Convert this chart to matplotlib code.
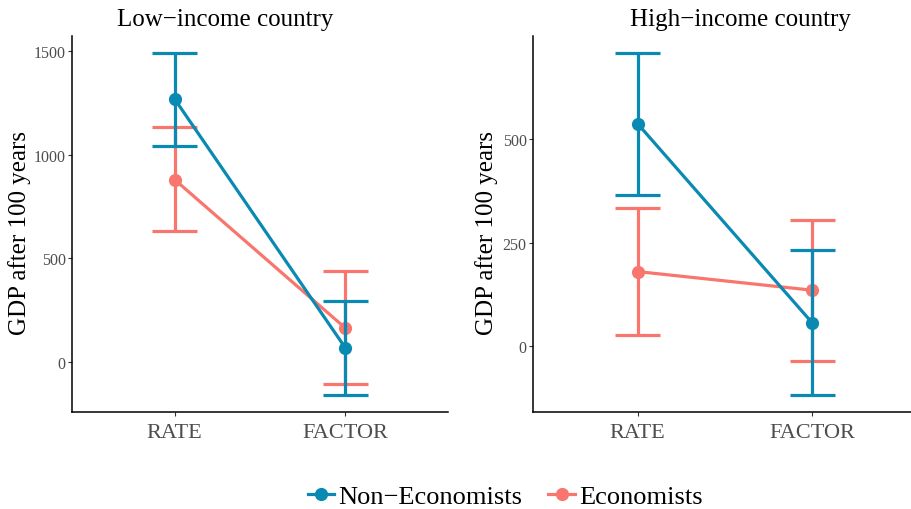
import matplotlib
matplotlib.use("Agg")
import matplotlib.pyplot as plt
from matplotlib.lines import Line2D

plt.rcParams["font.family"] = ["Liberation Serif", "DejaVu Serif"]

conditions = ["RATE", "FACTOR"]
groups = ["Non\u2212Economists", "Economists"]
colors = {"Non\u2212Economists": "#0A8AB2", "Economists": "#F8766D"}

# Low-income country: mean, lower, upper per condition
low_mean = {"Non\u2212Economists": [1269, 67], "Economists": [880, 163]}
low_lo = {"Non\u2212Economists": [1043, -159], "Economists": [630, -106]}
low_hi = {"Non\u2212Economists": [1490, 293], "Economists": [1135, 437]}

# High-income country
high_mean = {"Non\u2212Economists": [537, 56], "Economists": [180, 135]}
high_lo = {"Non\u2212Economists": [366, -118], "Economists": [27, -35]}
high_hi = {"Non\u2212Economists": [708, 231], "Economists": [333, 305]}

W, H = 912, 510
fig = plt.figure(figsize=(W / 100, H / 100), dpi=100)
fig.patch.set_facecolor("white")


def panel(rect, means, los, his, yticks, label_off):
    ax = fig.add_axes(rect)
    xs = [1, 2]
    cap = 0.13
    # economists drawn first, non-economists on top
    for z, g in enumerate(groups[::-1]):
        c = colors[g]
        base = z * 3
        for x, lo, hi in zip(xs, los[g], his[g]):
            ax.plot([x, x], [lo, hi], color=c, lw=2.3, solid_capstyle="butt", zorder=2 + base)
            ax.plot([x - cap, x + cap], [lo, lo], color=c, lw=2.3, solid_capstyle="butt", zorder=2 + base)
            ax.plot([x - cap, x + cap], [hi, hi], color=c, lw=2.3, solid_capstyle="butt", zorder=2 + base)
        ax.plot(xs, means[g], color=c, lw=2.3, zorder=3 + base)
        ax.plot(xs, means[g], "o", color=c, ms=9.5, mec="none", zorder=4 + base)

    allv = [v for g in groups for v in los[g] + his[g]]
    lo_, hi_ = min(allv), max(allv)
    pad = (hi_ - lo_) * 0.05
    ax.set_ylim(lo_ - pad, hi_ + pad)
    ax.set_xlim(0.4, 2.6)
    ax.set_xticks(xs)
    ax.set_xticklabels(conditions, fontsize=16, color="#4D4D4D")
    ax.set_yticks(yticks)
    ax.set_yticklabels([str(t) for t in yticks], fontsize=11.5, color="#4D4D4D")
    ax.tick_params(axis="both", colors="#333333", length=3, width=0.8)
    ax.tick_params(axis="x", labelcolor="#4D4D4D", pad=5)
    ax.tick_params(axis="y", labelcolor="#4D4D4D", pad=1.5)
    ax.spines["top"].set_visible(False)
    ax.spines["right"].set_visible(False)
    for s in ("left", "bottom"):
        ax.spines[s].set_linewidth(1.1)
        ax.spines[s].set_color("black")
    ax.set_ylabel("GDP after 100 years", fontsize=18)
    ax.yaxis.set_label_coords(-label_off / (rect[2] * W), 0.48)
    return ax


panel([72 / W, 97 / H, 376 / W, 376 / H], low_mean, low_lo, low_hi, [0, 500, 1000, 1500], 41)
panel([533 / W, 97 / H, 384 / W, 376 / H], high_mean, high_lo, high_hi, [0, 250, 500], 35)

fig.text(225 / W, 1 - 20 / H, "Low\u2212income country", fontsize=18, ha="center", va="center")
fig.text(740 / W, 1 - 20 / H, "High\u2212income country", fontsize=18, ha="center", va="center")

handles = [Line2D([0], [0], color=colors[g], lw=2.3, marker="o", ms=9.5, mec="none")
           for g in groups]
fig.legend(handles, groups, loc="center", bbox_to_anchor=(505 / W, 1 - 497 / H),
           ncol=2, frameon=False, fontsize=19, handlelength=1.0, handletextpad=0.15,
           columnspacing=1.0)

fig.savefig("out.png", dpi=100)
